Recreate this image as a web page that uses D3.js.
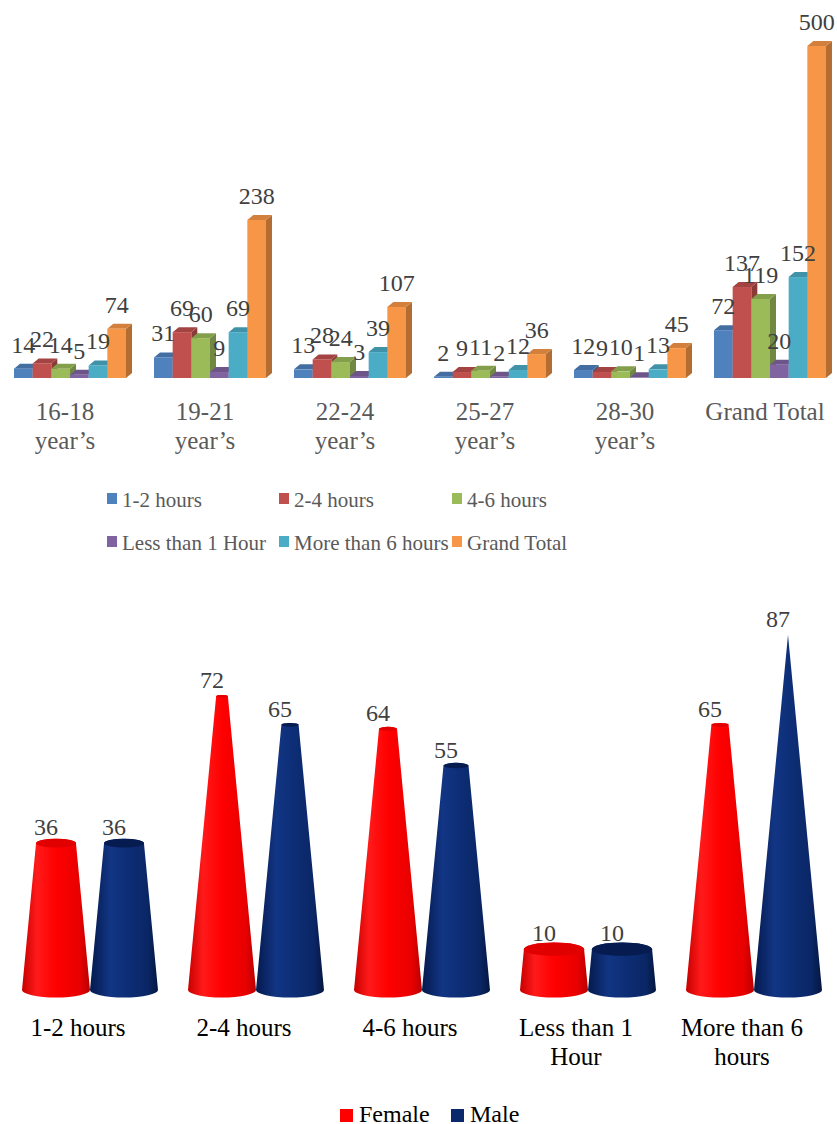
<!DOCTYPE html>
<html>
<head>
<meta charset="utf-8">
<script src="https://cdn.jsdelivr.net/npm/d3@7"></script>
<style>
  body { margin: 0; background: #fff; }
  svg { display: block; }
</style>
</head>
<body>
<svg id="chart" width="837" height="1124"></svg>
<script>
// ---------- Age group x daily hours (3D clustered columns) ----------
const ageGroups = ["16-18\nyear’s", "19-21\nyear’s", "22-24\nyear’s", "25-27\nyear’s", "28-30\nyear’s", "Grand Total"];
const hourSeries = ["1-2 hours", "2-4 hours", "4-6 hours", "Less than 1 Hour", "More than 6 hours", "Grand Total"];
const hours1to2   = [14, 31, 13, 2, 12, 72];
const hours2to4   = [22, 69, 28, 9, 9, 137];
const hours4to6   = [14, 60, 24, 11, 10, 119];
const hoursUnder1 = [5, 9, 3, 2, 1, 20];
const hoursOver6  = [19, 69, 39, 12, 13, 152];
const hoursTotal  = [74, 238, 107, 36, 45, 500];
const hourColors  = ["#4F81BD", "#C0504D", "#9BBB59", "#8064A2", "#4BACC6", "#F79646"];

// ---------- Daily hours by gender (cone chart) ----------
const durations = ["1-2 hours", "2-4 hours", "4-6 hours", "Less than 1\nHour", "More than 6\nhours"];
const genders = ["Female", "Male"];
const female = [36, 72, 64, 10, 65];
const male   = [36, 65, 55, 10, 87];
const genderColors = ["#FF0000", "#0B2A6C"];

const svg = d3.select("#chart");
const serif = "'Liberation Serif', 'DejaVu Serif', serif";

// ================= Top chart =================
const seriesValues = [hours1to2, hours2to4, hours4to6, hoursUnder1, hoursOver6, hoursTotal];
const x0 = d3.scaleBand().domain(ageGroups).range([0, 840]).paddingInner(0.2).paddingOuter(0.1);
const x1 = d3.scaleBand().domain(hourSeries).range([0, x0.bandwidth()]);
const yTop = d3.scaleLinear().domain([0, d3.max(hoursTotal)]).range([378, 46]);
const depthX = 6, depthY = 5;

const barChart = svg.append("g");
ageGroups.forEach((g, gi) => {
  const grp = barChart.append("g");
  hourSeries.forEach((s, si) => {
    const v = seriesValues[si][gi];
    const xl = x0(g) + x1(s), xr = xl + x1.bandwidth();
    const yt = yTop(v), yb = yTop(0);
    const base = d3.color(hourColors[si]);
    // side face
    grp.append("path")
      .attr("d", `M${xr},${yb}L${xr},${yt}L${xr + depthX},${yt - depthY}L${xr + depthX},${yb - depthY}Z`)
      .attr("fill", base.darker(0.9));
    // top face
    grp.append("path")
      .attr("d", `M${xl},${yt}L${xr},${yt}L${xr + depthX},${yt - depthY}L${xl + depthX},${yt - depthY}Z`)
      .attr("fill", base.darker(0.45));
    // front face
    grp.append("rect")
      .attr("x", xl).attr("y", yt)
      .attr("width", x1.bandwidth()).attr("height", yb - yt)
      .attr("fill", base);
  });
});

// value labels
ageGroups.forEach((g, gi) => {
  hourSeries.forEach((s, si) => {
    const v = seriesValues[si][gi];
    barChart.append("text")
      .attr("x", x0(g) + x1(s) + x1.bandwidth() / 2)
      .attr("y", yTop(v) - 16)
      .attr("text-anchor", "middle")
      .attr("font-family", serif).attr("font-size", 24)
      .attr("fill", "#404040")
      .text(v);
  });
});

// category labels
ageGroups.forEach(g => {
  const t = barChart.append("text")
    .attr("text-anchor", "middle")
    .attr("font-family", serif).attr("font-size", 25)
    .attr("fill", "#595959");
  g.split("\n").forEach((line, li) => {
    t.append("tspan")
      .attr("x", x0(g) + x0.bandwidth() / 2 - 5)
      .attr("y", 420 + li * 29)
      .text(line);
  });
});

// legend
const legendCols = [107, 279, 452];
const legendRows = [507, 550];
hourSeries.forEach((s, i) => {
  const lx = legendCols[i % 3], ly = legendRows[Math.floor(i / 3)];
  barChart.append("rect").attr("x", lx).attr("y", ly - 14).attr("width", 10).attr("height", 11)
    .attr("fill", hourColors[i]);
  barChart.append("text").attr("x", lx + 15).attr("y", ly)
    .attr("font-family", serif).attr("font-size", 21).attr("fill", "#595959")
    .text(s);
});

// ================= Bottom chart (cones) =================
const genderValues = [female, male];
const xc = d3.scaleBand().domain(durations).range([7, 837]);
const xg = d3.scaleBand().domain(genders).range([15, 151]);
const coneMax = d3.max([...female, ...male]);
const yCone = d3.scaleLinear().domain([0, coneMax]).range([990, 635]);
const tilt = 0.22;

const defs = svg.append("defs");
const gradStops = [
  [["0%", "#C80000"], ["22%", "#FF1A1A"], ["50%", "#FF0000"], ["85%", "#E80000"], ["100%", "#B80000"]],
  [["0%", "#051A4E"], ["30%", "#123584"], ["55%", "#0D2E76"], ["85%", "#0A2665"], ["100%", "#04173F"]]
];
genders.forEach((gname, gi) => {
  const lg = defs.append("linearGradient").attr("id", "cone-" + gi)
    .attr("x1", "0%").attr("x2", "100%").attr("y1", "0%").attr("y2", "0%");
  gradStops[gi].forEach(([o, c]) => lg.append("stop").attr("offset", o).attr("stop-color", c));
});
const topColors = ["#E00000", "#061B4F"];

const cones = svg.append("g");
durations.forEach((d, di) => {
  genders.forEach((gname, gi) => {
    const v = genderValues[gi][di];
    const cx = xc(d) + xg(gname) + xg.bandwidth() / 2;
    const R = xg.bandwidth() / 2;
    const r = R * (1 - v / coneMax);
    const yb = yCone(0), yt = yCone(v);
    const ryB = R * tilt, ryT = r * tilt;
    const path = `M${cx - R},${yb}L${cx - r},${yt}` +
      (r > 0 ? `A${r},${ryT} 0 0 1 ${cx + r},${yt}` : "") +
      `L${cx + R},${yb}A${R},${ryB} 0 0 1 ${cx - R},${yb}Z`;
    cones.append("path").attr("d", path).attr("fill", `url(#cone-${gi})`);
    if (r > 0) {
      cones.append("ellipse").attr("cx", cx).attr("cy", yt).attr("rx", r).attr("ry", ryT)
        .attr("fill", topColors[gi]);
    }
    cones.append("text")
      .attr("x", cx - 10).attr("y", yt - 8)
      .attr("text-anchor", "middle")
      .attr("font-family", serif).attr("font-size", 24)
      .attr("fill", "#404040")
      .text(v);
  });
});

// duration labels
durations.forEach(d => {
  const t = cones.append("text")
    .attr("text-anchor", "middle")
    .attr("font-family", serif).attr("font-size", 25)
    .attr("fill", "#000");
  d.split("\n").forEach((line, li) => {
    t.append("tspan")
      .attr("x", xc(d) + xc.bandwidth() / 2 - 12)
      .attr("y", 1036 + li * 29)
      .text(line);
  });
});

// gender legend
const genderLegendX = [340, 451];
genders.forEach((gname, gi) => {
  cones.append("rect").attr("x", genderLegendX[gi]).attr("y", 1109).attr("width", 13).attr("height", 13)
    .attr("fill", genderColors[gi]);
  cones.append("text").attr("x", genderLegendX[gi] + 19).attr("y", 1122)
    .attr("font-family", serif).attr("font-size", 24).attr("fill", "#000")
    .text(gname);
});
</script>
</body>
</html>
